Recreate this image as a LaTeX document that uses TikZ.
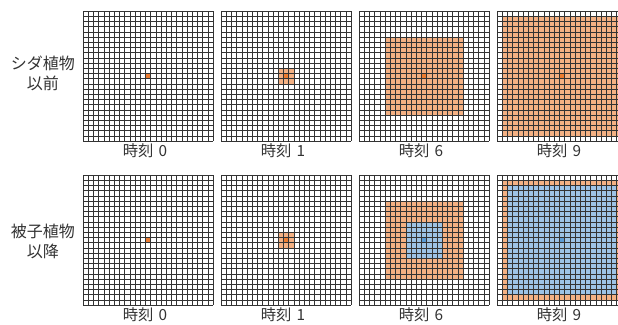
\documentclass[tikz,border=0pt]{standalone}
\usepackage{fontspec}
\setmainfont{Noto Sans CJK JP}
\usepackage{tikz}
\definecolor{cseed}{HTML}{ED7D31}
\definecolor{cfern}{HTML}{F4B183}
\definecolor{cangio}{HTML}{9DC3E6}
\definecolor{ccore}{HTML}{5B9BD5}
\definecolor{cline}{HTML}{333333}
\definecolor{ctext}{HTML}{333333}
\tikzset{
  gridline/.style={draw=cline, line width=0.45pt},
  fernfill/.style={fill=cfern},
  angiofill/.style={fill=cangio},
  seedfill/.style={fill=cseed},
  corefill/.style={fill=ccore},
  lbl/.style={font=\fontsize{11.5}{13}\selectfont, text=ctext, inner sep=0pt},
  rowlbl/.style={lbl, align=center, font=\fontsize{12}{15}\selectfont},
}

\begin{document}
\begin{tikzpicture}[x=0.75pt,y=-0.75pt]
\useasboundingbox (0,0) rectangle (618,325);
\clip (0,0) rectangle (618,325);
\fill[white] (0,0) rectangle (618,325);
% #1,#2 corner, #3 orange radius, #4 blue radius (-1: none), #5 name, #6 label
\def\panel#1#2#3#4#5#6{%
  \begin{scope}[shift={(#1,#2)}, x=3.9pt, y=-3.9pt]
    \ifnum#3>0 \fill[fernfill] ({12-#3},{12-#3}) rectangle ({13+#3},{13+#3}); \fi
    \ifnum#4>-1
      \fill[angiofill] ({12-#4},{12-#4}) rectangle ({13+#4},{13+#4});
      \fill[corefill] (12,12) rectangle (13,13);
    \else
      \fill[seedfill] (12,12) rectangle (13,13);
    \fi
    \foreach \k in {0,...,25} {
      \draw[gridline] (\k,0) -- (\k,25);
      \draw[gridline] (0,\k) -- (25,\k);
    }
  \end{scope}
  \node[lbl] (#5) at ({#1+62},{#2+140}) {#6};
}
% row labels
\node[rowlbl] (fern) at (43,73) {シダ植物\\以前};
\node[rowlbl] (angio) at (43,241) {被子植物\\以降};
% upper row: before ferns
\panel{83}{11}{0}{-1}{fa}{時刻\,\,0}
\panel{221}{11}{1}{-1}{fb}{時刻\,\,1}
\panel{359}{11}{7}{-1}{fc}{時刻\,\,6}
\panel{497}{11}{11}{-1}{fd}{時刻\,\,9}
% lower row: after angiosperms
\panel{83}{175}{0}{-1}{aa}{時刻\,\,0}
\panel{221}{175}{1}{-1}{ab}{時刻\,\,1}
\panel{359}{175}{7}{3}{ac}{時刻\,\,6}
\panel{497}{175}{11}{10}{ad}{時刻\,\,9}
\end{tikzpicture}
\end{document}
